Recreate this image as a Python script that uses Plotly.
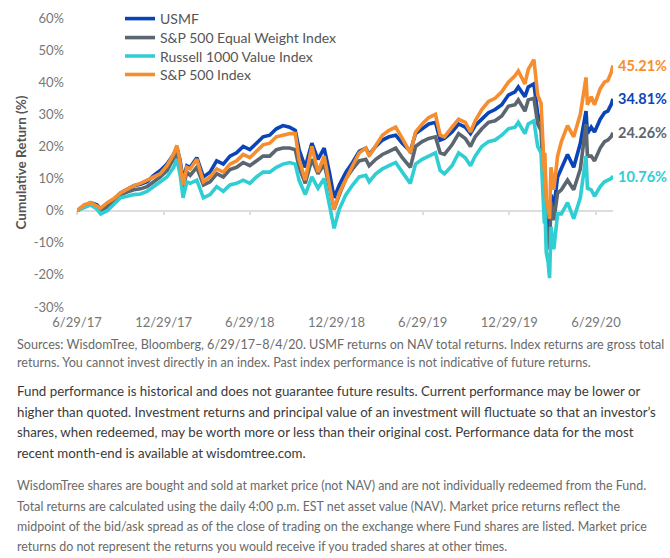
import plotly.graph_objects as go

# ---------------- data ----------------
dates = [
    "2017-06-29", "2017-07-14", "2017-07-28", "2017-08-10", "2017-08-18", "2017-09-01", "2017-09-15",
    "2017-09-29", "2017-10-13", "2017-10-27", "2017-11-10", "2017-11-24", "2017-12-08", "2017-12-22",
    "2018-01-05", "2018-01-19", "2018-01-26", "2018-02-02", "2018-02-08", "2018-02-16", "2018-02-23",
    "2018-03-09", "2018-03-23", "2018-04-06", "2018-04-20", "2018-05-04", "2018-05-18", "2018-06-01",
    "2018-06-15", "2018-06-29", "2018-07-13", "2018-07-27", "2018-08-10", "2018-08-24", "2018-09-07",
    "2018-09-21", "2018-10-03", "2018-10-11", "2018-10-24", "2018-11-07", "2018-11-20", "2018-12-03",
    "2018-12-14", "2018-12-24",
    "2019-01-04", "2019-01-18", "2019-02-01", "2019-02-15", "2019-03-01", "2019-03-08", "2019-03-22",
    "2019-04-05", "2019-04-19", "2019-05-03", "2019-05-17", "2019-06-03", "2019-06-14", "2019-06-28",
    "2019-07-12", "2019-07-26", "2019-08-05", "2019-08-14", "2019-08-30", "2019-09-13", "2019-09-27",
    "2019-10-08", "2019-10-18", "2019-11-01", "2019-11-15", "2019-11-29", "2019-12-13", "2019-12-27",
    "2020-01-10", "2020-01-17", "2020-01-31", "2020-02-07", "2020-02-19", "2020-02-27", "2020-03-05",
    "2020-03-09", "2020-03-12", "2020-03-13", "2020-03-16", "2020-03-20", "2020-03-23", "2020-03-26",
    "2020-04-01", "2020-04-09", "2020-04-17", "2020-04-30", "2020-05-13", "2020-05-27", "2020-06-08",
    "2020-06-11", "2020-06-19", "2020-06-26", "2020-07-08", "2020-07-17", "2020-07-24", "2020-07-31",
    "2020-08-04",
]

usmf = [
    0, 1.5, 2.5, 1.8, 0.5, 2.0, 3.5, 5.5, 6.5, 7.8, 8.2, 9.0, 11.0, 12.5,
    14.5, 17.5, 19.8, 15.5, 9.5, 14.0, 13.5, 16.5, 10.5, 12.0, 15.5, 14.5, 17.0, 18.0, 20.0, 19.0,
    21.0, 23.0, 23.5, 25.5, 26.5, 26.0, 25.0, 19.0, 13.5, 21.0, 16.0, 19.5, 12.0, 4.0,
    8.0, 12.0, 15.0, 18.5, 19.5, 17.5, 20.0, 22.0, 23.0, 23.5, 21.0, 18.5, 24.0, 25.5,
    27.0, 27.5, 22.0, 22.5, 24.5, 27.0, 26.0, 24.0, 26.5, 28.5, 30.5, 31.5, 33.0, 36.0,
    37.0, 38.5, 35.5, 38.5, 39.5, 30.0, 28.0, 18.0, 8.0, 14.0, 1.5, -3.0, -8.0, 5.0, 1.0,
    10.5, 13.0, 17.5, 13.5, 21.0, 31.0, 24.0, 26.0, 24.5, 28.5, 30.5, 31.0, 33.0, 34.81,
]

eq_weight = [
    0, 1.2, 2.0, 1.0, -0.2, 1.0, 2.8, 5.0, 5.8, 6.5, 6.8, 7.5, 9.0, 10.5,
    12.5, 16.0, 18.0, 13.5, 7.0, 12.0, 11.0, 13.5, 8.0, 9.0, 11.5, 10.5, 12.8, 13.5, 15.0, 14.0,
    15.5, 17.0, 17.0, 19.0, 19.5, 19.5, 19.0, 13.5, 8.5, 16.0, 11.5, 14.5, 7.5, 0.5,
    5.0, 10.0, 13.0, 15.5, 16.0, 14.0, 16.0, 17.5, 18.5, 19.5, 16.5, 13.5, 20.0, 21.5,
    22.5, 23.0, 18.0, 17.5, 20.5, 24.0, 22.5, 20.0, 23.0, 25.5, 27.5, 28.0, 29.5, 32.5,
    33.0, 34.5, 31.0, 34.5, 35.0, 27.0, 25.0, 13.0, 3.0, 9.0, -5.0, -8.0, -12.0, 2.5, -3.0,
    5.5, 6.5, 9.5, 6.5, 13.0, 27.0, 17.0, 17.0, 15.5, 19.5, 21.5, 22.0, 23.0, 24.26,
]

russell_value = [
    0, 1.0, 1.8, 0.5, -1.0, 0.0, 2.0, 4.0, 4.5, 5.0, 5.2, 6.0, 7.5, 9.0,
    10.5, 13.5, 16.0, 11.0, 4.0, 9.0, 8.5, 9.5, 4.0, 5.0, 7.5, 6.0, 8.0, 8.5, 9.5, 8.5,
    10.5, 12.0, 12.0, 13.5, 14.5, 15.0, 14.5, 9.5, 5.0, 10.5, 7.0, 10.0, 2.0, -5.5,
    0.5, 5.0, 8.0, 10.5, 11.0, 9.0, 11.5, 13.0, 14.0, 15.0, 12.0, 8.5, 14.5, 16.0,
    17.0, 18.0, 12.5, 11.5, 14.0, 18.0, 16.5, 14.0, 17.0, 20.0, 21.5, 22.0, 23.5, 25.5,
    26.0, 27.5, 24.0, 27.0, 28.0, 20.0, 18.0, 6.0, -4.0, 2.0, -13.0, -16.0, -21.0, -5.0, -12.0,
    -1.0, -1.0, 2.5, -2.5, 4.0, 17.0, 7.0, 6.5, 4.5, 7.5, 9.0, 9.5, 10.0, 10.76,
]

sp500 = [
    0, 1.8, 2.5, 1.5, 0.8, 2.5, 3.8, 5.5, 6.8, 7.8, 8.5, 9.5, 10.5, 11.5,
    14.0, 17.5, 20.3, 15.0, 8.0, 13.5, 13.0, 16.0, 9.0, 10.5, 13.0, 12.0, 14.5, 15.5, 17.5, 16.5,
    18.5, 20.5, 21.0, 23.0, 23.5, 24.0, 24.0, 16.0, 9.5, 20.0, 12.0, 17.0, 8.0, 0.5,
    5.5, 10.0, 14.0, 18.0, 19.5, 17.0, 20.5, 23.5, 25.0, 26.0, 22.5, 18.0, 24.5, 27.0,
    29.0, 30.0, 23.5, 23.0, 26.0, 28.5, 27.5, 24.5, 28.0, 31.5, 34.0, 35.0, 37.0, 40.0,
    42.0, 43.5, 39.5, 44.0, 47.0, 36.0, 33.5, 22.0, 12.0, 18.0, 3.5, 1.0, -2.5, 13.5, 6.5,
    17.0, 21.5, 26.5, 23.0, 30.0, 41.5, 33.0, 35.5, 33.0, 38.0, 40.0, 40.5, 43.0, 45.21,
]

series_names = ["USMF", "S&P 500 Equal Weight Index", "Russell 1000 Value Index", "S&P 500 Index"]
series_values = [usmf, eq_weight, russell_value, sp500]
series_colors = ["#0a45b8", "#5b6670", "#2fcdd4", "#f68d2e"]

x_tick_dates = ["2017-06-29", "2017-12-29", "2018-06-29", "2018-12-29", "2019-06-29", "2019-12-29", "2020-06-29"]
x_tick_labels = ["6/29/17", "12/29/17", "6/29/18", "12/29/18", "6/29/19", "12/29/19", "6/29/20"]
y_tick_values = [-30, -20, -10, 0, 10, 20, 30, 40, 50, 60]
y_tick_labels = [f"{v}%" for v in y_tick_values]

note_lines = [
    ("Sources: WisdomTree, Bloomberg, 6/29/17\u20138/4/20. USMF returns on NAV total returns. Index returns are gross total", 1),
    ("returns. You cannot invest directly in an index. Past index performance is not indicative of future returns.", 1),
    ("Fund performance is historical and does not guarantee future results. Current performance may be lower or", 2),
    ("higher than quoted. Investment returns and principal value of an investment will fluctuate so that an investor\u2019s", 2),
    ("shares, when redeemed, may be worth more or less than their original cost. Performance data for the most", 2),
    ("recent month-end is available at wisdomtree.com.", 2),
    ("WisdomTree shares are bought and sold at market price (not NAV) and are not individually redeemed from the Fund.", 3),
    ("Total returns are calculated using the daily 4:00 p.m. EST net asset value (NAV). Market price returns reflect the", 3),
    ("midpoint of the bid/ask spread as of the close of trading on the exchange where Fund shares are listed. Market price", 3),
    ("returns do not represent the returns you would receive if you traded shares at other times.", 3),
]

# ---------------- layout geometry ----------------
W, H = 670, 558
ML, MR, MT, MB = 77, 57, 18, 250.5
PW, PH = W - ML - MR, H - MT - MB
FONT = "Lato, 'Open Sans', sans-serif"


def px_x(x):
    return (x - ML) / PW


def px_y(y):
    return (H - MB - y) / PH


note_y = [345, 363, 392, 413, 433, 454, 486, 507, 527, 547]
note_style = {1: dict(size=12.6, color="#6a6a6a"), 2: dict(size=13.3, color="#3a3a3a"), 3: dict(size=12.45, color="#6a6a6a")}
legend_ids = ["legend", "legend2", "legend3", "legend4"]
legend_y = [19, 38, 56.5, 75]

fig = go.Figure()
for name, vals, col, lid in zip(series_names, series_values, series_colors, legend_ids):
    fig.add_trace(go.Scatter(x=dates, y=vals, mode="lines", name=name, legend=lid,
                             line=dict(color=col, width=3.6), hoverinfo="skip"))

# invisible helper trace so the zero-line axis (xaxis2) is drawn
fig.add_trace(go.Scatter(x=dates, y=usmf, xaxis="x2", mode="lines", opacity=0,
                         showlegend=False, hoverinfo="skip", line=dict(width=0)))

annotations = []
for vals, col in zip(series_values, series_colors):
    annotations.append(dict(x=dates[-1], y=vals[-1], xref="x", yref="y", text=f"<b>{vals[-1]:.2f}%</b>",
                            showarrow=False, xanchor="left", yanchor="middle", xshift=3,
                            font=dict(family=FONT, size=14.5, color=col)))
for (txt, grp), yy in zip(note_lines, note_y):
    annotations.append(dict(x=px_x(15), y=px_y(yy), xref="paper", yref="paper", text=txt,
                            showarrow=False, xanchor="left", yanchor="middle", align="left",
                            font=dict(family=FONT, **note_style[grp])))

legend_layout = {}
for lid, ly in zip(legend_ids, legend_y):
    legend_layout[lid] = dict(x=px_x(120), y=px_y(ly), xanchor="left", yanchor="middle",
                              bgcolor="rgba(0,0,0,0)", font=dict(family=FONT, size=14, color="#555555"),
                              itemwidth=30)

fig.update_layout(
    width=W, height=H,
    margin=dict(l=ML, r=MR, t=MT, b=MB, pad=0, autoexpand=False),
    paper_bgcolor="white", plot_bgcolor="white",
    font=dict(family=FONT, size=13, color="#777777"),
    showlegend=True,
    xaxis=dict(type="date", range=[dates[0], dates[-1]], tickvals=x_tick_dates, ticktext=x_tick_labels,
               showgrid=False, zeroline=False, showline=False, ticks="", ticklabelstandoff=6,
               tickfont=dict(family=FONT, size=13, color="#777777"), automargin=False),
    xaxis2=dict(type="date", overlaying="x", anchor="free", position=px_y(211), side="bottom",
                range=[dates[0], dates[-1]], tickvals=x_tick_dates, showticklabels=False,
                showgrid=False, zeroline=False, showline=True, linecolor="#dddddd", linewidth=1.5,
                ticks="outside", ticklen=4, tickcolor="#dddddd", tickwidth=1.5, layer="below traces"),
    yaxis=dict(range=[-30, 60], tickvals=y_tick_values, ticktext=y_tick_labels, showgrid=False,
               zeroline=False, showline=False, ticks="", ticklabelstandoff=12, automargin=False,
               tickfont=dict(family=FONT, size=13, color="#777777"),
               title=dict(text="<b>Cumulative Return (%)</b>", standoff=3,
                          font=dict(family=FONT, size=13.5, color="#555555"))),
    annotations=annotations,
    **legend_layout,
)

fig.write_html("out.html")
